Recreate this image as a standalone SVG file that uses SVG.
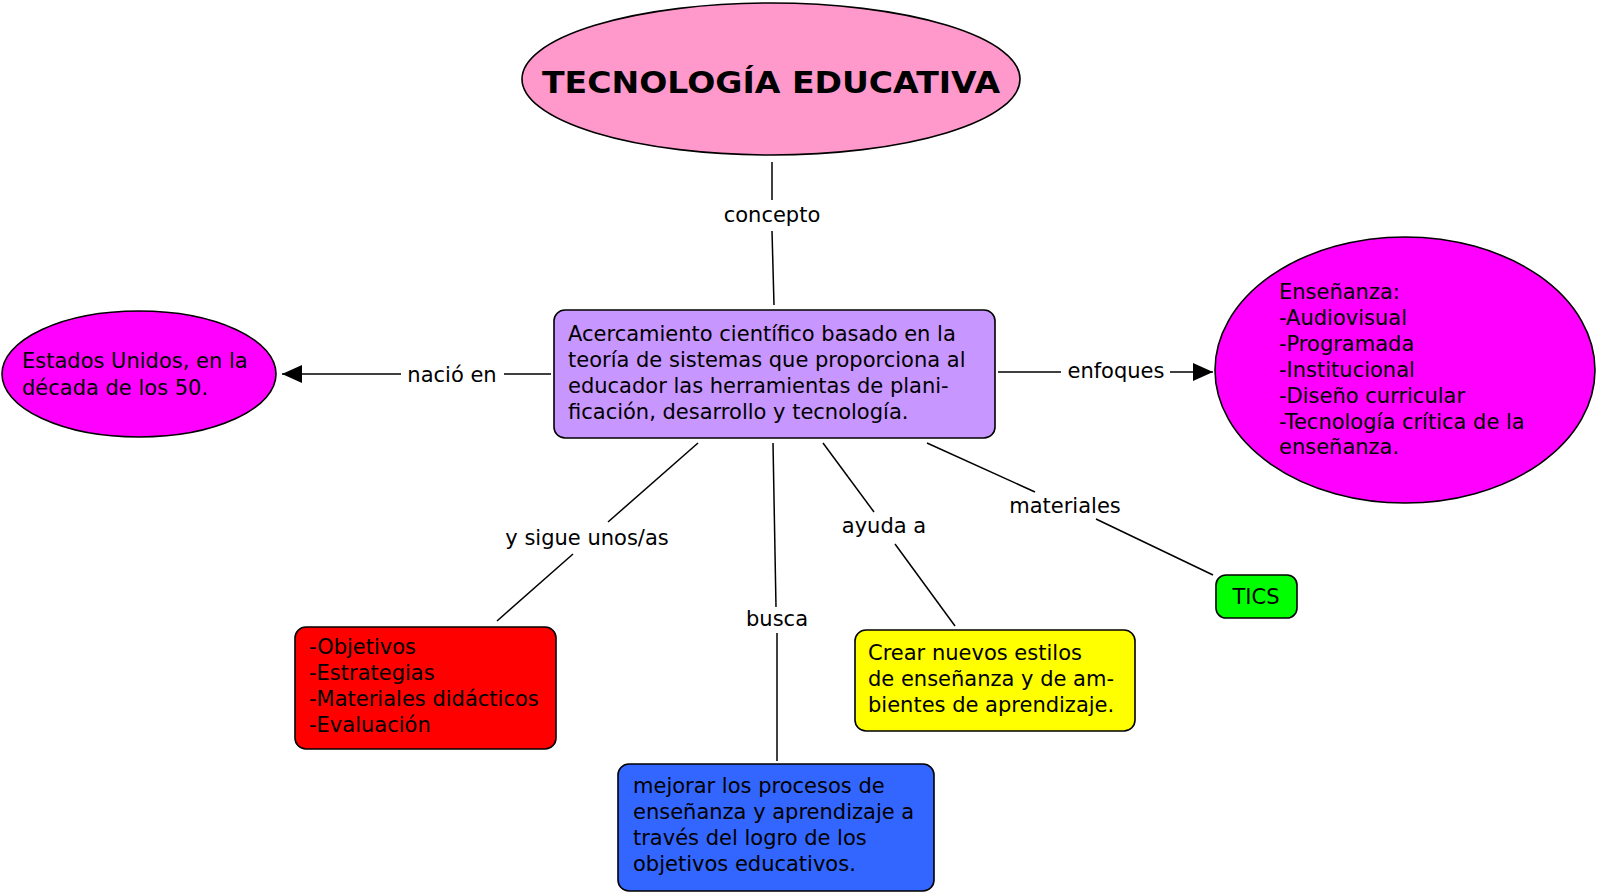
<svg xmlns="http://www.w3.org/2000/svg" width="1600" height="894" viewBox="0 0 1600 894">
<defs>
<style>
.n{stroke:#000;stroke-width:1.6}
.t{font-family:"DejaVu Sans","Verdana",sans-serif;font-size:21px;fill:#000}
.l{font-family:"DejaVu Sans","Verdana",sans-serif;font-size:21px;fill:#000;text-anchor:middle}
.c{stroke:#000;stroke-width:1.5;fill:none}
</style>
<marker id="ah" viewBox="0 0 20 20" refX="20" refY="10" markerWidth="20" markerHeight="20" markerUnits="userSpaceOnUse" orient="auto">
<path d="M0,1 L20,10 L0,19 Z" fill="#000"/>
</marker>
</defs>
<rect width="1600" height="894" fill="#fff"/>
<g id="connectors">
<line class="c" x1="772" y1="162" x2="772" y2="200"/>
<line class="c" x1="772" y1="231" x2="774" y2="305"/>
<text class="l" x="772" y="222">concepto</text>
<line class="c" x1="551" y1="374" x2="504" y2="374"/>
<line class="c" x1="401" y1="374" x2="282" y2="374" marker-end="url(#ah)"/>
<text class="l" x="452" y="382">nació en</text>
<line class="c" x1="998" y1="372" x2="1061" y2="372"/>
<line class="c" x1="1170" y1="372" x2="1213" y2="372" marker-end="url(#ah)"/>
<text class="l" x="1116" y="378">enfoques</text>
<line class="c" x1="698" y1="443" x2="608" y2="522"/>
<line class="c" x1="573" y1="554" x2="497" y2="621"/>
<text class="l" x="587" y="545">y sigue unos/as</text>
<line class="c" x1="773" y1="443" x2="776" y2="607"/>
<line class="c" x1="777" y1="633" x2="777" y2="761"/>
<text class="l" x="777" y="626">busca</text>
<line class="c" x1="823" y1="443" x2="874" y2="512"/>
<line class="c" x1="895" y1="544" x2="955" y2="626"/>
<text class="l" x="884" y="533">ayuda a</text>
<line class="c" x1="927" y1="443" x2="1035" y2="492"/>
<line class="c" x1="1096" y1="519" x2="1213" y2="575"/>
<text class="l" x="1065" y="513">materiales</text>
</g>
<g id="title">
<ellipse class="n" cx="771" cy="79" rx="249" ry="76" fill="#FF99CC"/>
<text x="542" y="93" textLength="458" lengthAdjust="spacingAndGlyphs" style="font-family:'DejaVu Sans','Verdana',sans-serif;font-size:31px;font-weight:bold;fill:#000">TECNOLOGÍA EDUCATIVA</text>
</g>
<g id="central">
<rect class="n" x="554" y="310" width="441" height="128" rx="11" fill="#C896FF"/>
<text class="t" x="568" y="341">Acercamiento científico basado en la</text>
<text class="t" x="568" y="367">teoría de sistemas que proporciona al</text>
<text class="t" x="568" y="393">educador las herramientas de plani-</text>
<text class="t" x="568" y="419">ficación, desarrollo y tecnología.</text>
</g>
<g id="origen">
<ellipse class="n" cx="139" cy="374" rx="137" ry="63" fill="#FF00FF"/>
<text class="t" x="22" y="368">Estados Unidos, en la</text>
<text class="t" x="22" y="395">década de los 50.</text>
</g>
<g id="enfoques">
<ellipse class="n" cx="1405" cy="370" rx="190" ry="133" fill="#FF00FF"/>
<text class="t" x="1279" y="299">Enseñanza:</text>
<text class="t" x="1279" y="325">-Audiovisual</text>
<text class="t" x="1279" y="351">-Programada</text>
<text class="t" x="1279" y="377">-Institucional</text>
<text class="t" x="1279" y="403">-Diseño curricular</text>
<text class="t" x="1279" y="429">-Tecnología crítica de la</text>
<text class="t" x="1279" y="454">enseñanza.</text>
</g>
<g id="objetivos">
<rect class="n" x="295" y="627" width="261" height="122" rx="11" fill="#FF0000"/>
<text class="t" x="309" y="654">-Objetivos</text>
<text class="t" x="309" y="680">-Estrategias</text>
<text class="t" x="309" y="706">-Materiales didácticos</text>
<text class="t" x="309" y="732">-Evaluación</text>
</g>
<g id="mejorar">
<rect class="n" x="618" y="764" width="316" height="127" rx="11" fill="#3366FF"/>
<text class="t" x="633" y="793">mejorar los procesos de</text>
<text class="t" x="633" y="819">enseñanza y aprendizaje a</text>
<text class="t" x="633" y="845">través del logro de los</text>
<text class="t" x="633" y="871">objetivos educativos.</text>
</g>
<g id="crear">
<rect class="n" x="855" y="630" width="280" height="101" rx="11" fill="#FFFF00"/>
<text class="t" x="868" y="660">Crear nuevos estilos</text>
<text class="t" x="868" y="686">de enseñanza y de am-</text>
<text class="t" x="868" y="712">bientes de aprendizaje.</text>
</g>
<g id="tics">
<rect class="n" x="1216" y="575" width="81" height="43" rx="10" fill="#00FF00"/>
<text class="l" x="1256" y="604">TICS</text>
</g>
</svg>
